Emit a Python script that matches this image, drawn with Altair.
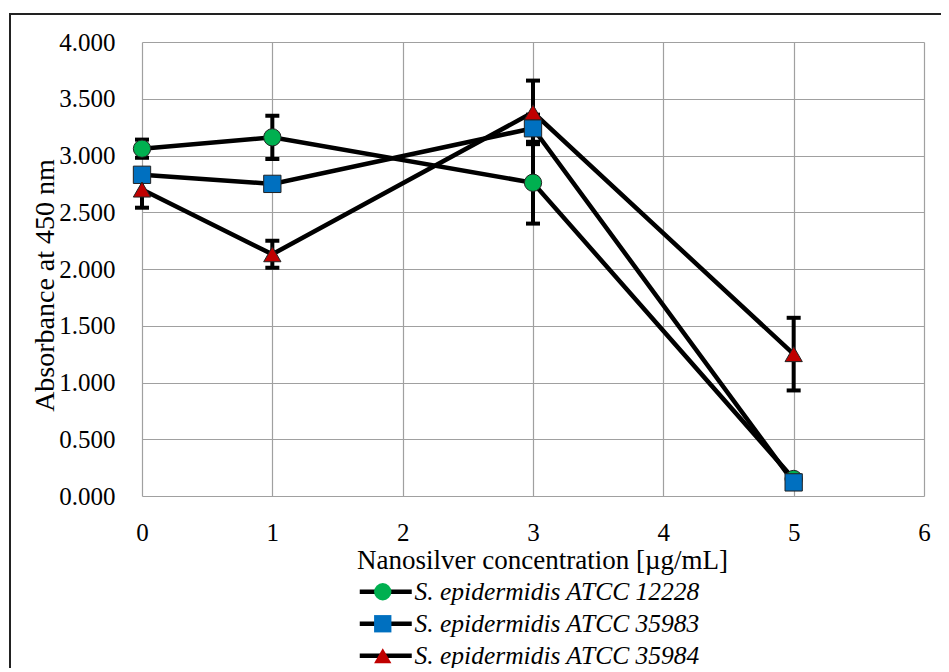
import altair as alt
import pandas as pd

# ---- data ----
conc = [0, 1, 3, 5]
series_names = ["S. epidermidis ATCC 12228", "S. epidermidis ATCC 35983", "S. epidermidis ATCC 35984"]
marker_codes = ["m12228", "m35983", "m35984"]
abs_12228 = [3.06, 3.16, 2.76, 0.15]
err_12228 = [0.08, 0.19, 0.36, 0.03]
abs_35983 = [2.83, 2.75, 3.24, 0.12]
err_35983 = [0.05, 0.05, 0.12, 0.03]
abs_35984 = [2.70, 2.13, 3.38, 1.25]
err_35984 = [0.16, 0.12, 0.28, 0.32]
x_ticks = [0, 1, 2, 3, 4, 5, 6]
y_ticks = [0.0, 0.5, 1.0, 1.5, 2.0, 2.5, 3.0, 3.5, 4.0]
colors = ["#00B050", "#0070C0", "#C00000"]
shapes = ["circle", "square", "triangle-up"]

rows = []
for i, (name, code, vals, errs) in enumerate(zip(series_names, marker_codes,
                                                 [abs_12228, abs_35983, abs_35984],
                                                 [err_12228, err_35983, err_35984])):
    for x, v, e in zip(conc, vals, errs):
        rows.append({"conc": x, "absorb": v, "lo": v - e, "hi": v + e,
                     "series": name, "marker": code, "order_idx": i})
df = pd.DataFrame(rows)

FONT = "Liberation Serif"

x_axis = alt.Axis(values=x_ticks, title="Nanosilver concentration [µg/mL]", grid=True,
                  ticks=False, domain=False, labelPadding=24, labelFontSize=25,
                  titleFontSize=27, titleFontWeight="normal", titleX=400, titleY=51,
                  titleBaseline="top", labelFlush=False)
y_axis = alt.Axis(values=y_ticks, format=".3f", title="Absorbance at 450 nm", grid=True,
                  ticks=False, domain=False, labelPadding=27, labelFontSize=25,
                  titleFontSize=28, titleFontWeight="normal", titleX=-97, titleY=243,
                  titleAngle=-90, titleBaseline="middle", titleAlign="center")
x_scale = alt.Scale(domain=[0, 6], nice=False, zero=False)
y_scale = alt.Scale(domain=[0, 4], nice=False)

X = alt.X("conc:Q", scale=x_scale, axis=x_axis)

base = alt.Chart(df)

frame = alt.Chart(pd.DataFrame({"a": [0]})).mark_rect(
    fillOpacity=0, stroke="#222222", strokeWidth=2
).encode(x=alt.value(-132), y=alt.value(-28), x2=alt.value(1400), y2=alt.value(1400))

line_legend = alt.Legend(orient="none", legendX=231, legendY=537, title=None,
                         symbolType="M-6.5,0H6.5", symbolSize=64, symbolStrokeWidth=4.5,
                         labelFont=FONT, labelFontStyle="italic", labelFontSize=25.5,
                         labelOffset=16, rowPadding=5, padding=0, labelColor="black",
                         labelLimit=600)
lines = base.mark_line(strokeWidth=4.5).encode(
    x=X,
    y=alt.Y("absorb:Q", scale=y_scale, axis=y_axis),
    color=alt.Color("series:N", scale=alt.Scale(domain=series_names, range=["black"] * 3),
                    legend=line_legend),
)

bars = base.mark_rule(strokeWidth=4, color="black", opacity=1).encode(
    x=X, y=alt.Y("lo:Q", scale=y_scale, axis=y_axis), y2="hi:Q"
)
caps_hi = base.mark_tick(orient="horizontal", size=14, thickness=4, color="black", opacity=1).encode(
    x=X, y=alt.Y("hi:Q", scale=y_scale, axis=y_axis)
)
caps_lo = base.mark_tick(orient="horizontal", size=14, thickness=4, color="black", opacity=1).encode(
    x=X, y=alt.Y("lo:Q", scale=y_scale, axis=y_axis)
)

pt_legend = alt.Legend(orient="none", legendX=228, legendY=537, title=None,
                       symbolSize=300, symbolStrokeColor="#222222", symbolStrokeWidth=1,
                       labelFont=FONT, labelFontStyle="italic", labelFontSize=25.5,
                       labelOffset=3, rowPadding=5, padding=0, labelExpr="' '",
                       symbolOpacity=1, labelLimit=600)
points = base.mark_point(filled=True, size=300, stroke="#222222", strokeWidth=1, opacity=1).encode(
    x=X,
    y=alt.Y("absorb:Q", scale=y_scale, axis=y_axis),
    fill=alt.Fill("marker:N", scale=alt.Scale(domain=marker_codes, range=colors), legend=pt_legend),
    shape=alt.Shape("marker:N", scale=alt.Scale(domain=marker_codes, range=shapes), legend=pt_legend),
    order=alt.Order("order_idx:Q"),
)

chart = alt.layer(frame, lines, bars, caps_hi, caps_lo, points).properties(
    width=782, height=454,
    autosize=alt.AutoSizeParams(type="none"),
    padding={"left": 134, "top": 34, "right": 17, "bottom": 172},
).configure(
    font=FONT,
).configure_axis(
    labelFont=FONT, titleFont=FONT, labelColor="black", titleColor="black",
    gridColor="#A0A0A0", gridWidth=1.2, gridOpacity=1,
).configure_view(
    strokeWidth=0
)

chart.save("out.html", embed_options={"renderer": "svg", "actions": False})
